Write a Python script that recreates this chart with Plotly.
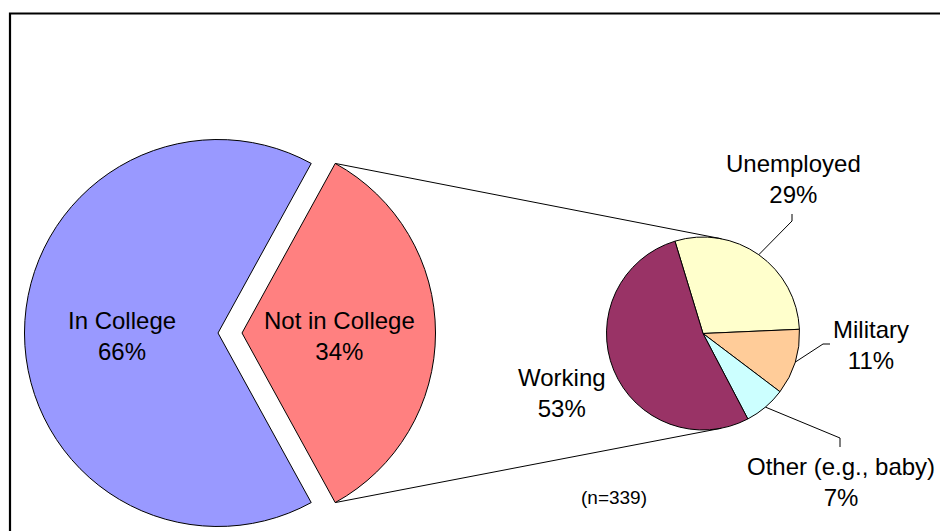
import math
import plotly.graph_objects as go

OFF = 0
W, H = 940 - OFF, 531 - OFF

# ---------------- data ----------------
main_labels = ["In College", "Not in College"]
main_values = [66, 34]
main_colors = ["#9999FF", "#FF8080"]

sub_labels = ["Unemployed", "Military", "Other (e.g., baby)", "Working"]
sub_values = [29, 11, 7, 53]
sub_colors = ["#FFFFCC", "#FFCC99", "#CCFFFF", "#993366"]

note_text = "(n=339)"

# ---------------- geometry (window pixels) ----------------
BIG_C = (218, 333)
BIG_R = 193.5
EXPLODE = 24
SMALL_C = (703, 333.5)
SMALL_R = 96.5
SMALL_SPLIT = 87.5  # clock angle of Unemployed/Military boundary

FONT = "Liberation Sans, Arial, sans-serif"
CLEAR = "rgba(0,0,0,0)"


def fx(x):
    return (x - OFF) / W


def fy(y):
    return 1 - (y - OFF) / H


def dom(cx, cy, r):
    return dict(x=[fx(cx - r), fx(cx + r)], y=[fy(cy + r), fy(cy - r)])


def on_circle(c, r, clock_deg):
    a = math.radians(clock_deg)
    return (c[0] + r * math.sin(a), c[1] - r * math.cos(a))


main_tot = sum(main_values)
rot_big = 90 + main_values[1] / main_tot * 360 / 2
red_c = (BIG_C[0] + EXPLODE, BIG_C[1])

sub_tot = sum(sub_values)
rot_small = SMALL_SPLIT - sub_values[0] / sub_tot * 360

fig = go.Figure()

# main pie: "In College" part
fig.add_trace(go.Pie(
    labels=main_labels, values=main_values, sort=False, direction="clockwise",
    rotation=rot_big, domain=dom(BIG_C[0], BIG_C[1], BIG_R),
    marker=dict(colors=[main_colors[0], CLEAR],
                line=dict(color=["black", CLEAR], width=[1, 0])),
    textinfo="none", showlegend=False, hoverinfo="label+percent"))

# main pie: exploded "Not in College" part
fig.add_trace(go.Pie(
    labels=main_labels, values=main_values, sort=False, direction="clockwise",
    rotation=rot_big, domain=dom(red_c[0], red_c[1], BIG_R),
    marker=dict(colors=[CLEAR, main_colors[1]],
                line=dict(color=[CLEAR, "black"], width=[0, 1])),
    textinfo="none", showlegend=False, hoverinfo="label+percent"))

# secondary pie
fig.add_trace(go.Pie(
    labels=sub_labels, values=sub_values, sort=False, direction="clockwise",
    rotation=rot_small, domain=dom(SMALL_C[0], SMALL_C[1], SMALL_R),
    marker=dict(colors=sub_colors, line=dict(color="black", width=1)),
    textinfo="none", showlegend=False, hoverinfo="label+percent"))

shapes = []


def line(p, q, w=1):
    shapes.append(dict(type="line", xref="paper", yref="paper",
                       x0=fx(p[0]), y0=fy(p[1]), x1=fx(q[0]), y1=fy(q[1]),
                       line=dict(color="black", width=w)))


# connector lines from exploded slice edges to tangent points of small pie
half = main_values[1] / main_tot * 360 / 2
edge_top = on_circle(red_c, BIG_R, 90 - half)
edge_bot = on_circle(red_c, BIG_R, 90 + half)


def tangent(P, upper):
    dx, dy = P[0] - SMALL_C[0], P[1] - SMALL_C[1]
    d = math.hypot(dx, dy)
    ux, uy = dx / d, dy / d
    c = SMALL_R / d
    s = math.sqrt(1 - c * c)
    cands = []
    for sg in (1, -1):
        vx = c * ux + sg * s * (-uy)
        vy = c * uy + sg * s * ux
        cands.append((SMALL_C[0] + SMALL_R * vx, SMALL_C[1] + SMALL_R * vy))
    cands.sort(key=lambda t: t[1])
    return cands[0] if upper else cands[1]


line(edge_top, tangent(edge_top, True))
line(edge_bot, tangent(edge_bot, False))

# leader lines for small pie labels
elbows = {
    "Unemployed": [(792, 221), (792, 214)],
    "Military": [(823, 344), (830, 344)],
    "Other (e.g., baby)": [(840, 438), (840, 447)],
}
cum = 0
for lab, v in zip(sub_labels, sub_values):
    mid = rot_small + (cum + v / 2) / sub_tot * 360
    cum += v
    if lab in elbows:
        start = on_circle(SMALL_C, SMALL_R, mid)
        pts = [start] + elbows[lab]
        for a, b in zip(pts[:-1], pts[1:]):
            line(a, b)

# outer frame
shapes.append(dict(type="rect", xref="paper", yref="paper",
                   x0=fx(10), y0=fy(13.5), x1=fx(960), y1=fy(560),
                   line=dict(color="black", width=2.2), fillcolor=CLEAR))

# labels
label_pos = {
    "In College": (122, 336),
    "Not in College": (339, 336),
    "Unemployed": (793, 179),
    "Military": (871, 345),
    "Other (e.g., baby)": (841, 482),
    "Working": (562, 393),
}
annotations = []
for lab, v in list(zip(main_labels, main_values)) + list(zip(sub_labels, sub_values)):
    x, y = label_pos[lab]
    annotations.append(dict(x=fx(x), y=fy(y), xref="paper", yref="paper",
                            text=f"{lab}<br>{v}%", showarrow=False,
                            xanchor="center", yanchor="middle",
                            font=dict(family=FONT, size=24, color="black")))
annotations.append(dict(x=fx(614), y=fy(497), xref="paper", yref="paper",
                        text=note_text, showarrow=False,
                        xanchor="center", yanchor="middle",
                        font=dict(family=FONT, size=19, color="black")))

fig.update_layout(width=W, height=H, autosize=False,
                  margin=dict(l=0, r=0, t=0, b=0),
                  paper_bgcolor="white", plot_bgcolor="white",
                  shapes=shapes, annotations=annotations, showlegend=False)

fig.write_html("out.html",
               config={"displayModeBar": False},
               post_script="document.body.style.margin='0';"
                           "document.body.style.overflow='hidden';")
